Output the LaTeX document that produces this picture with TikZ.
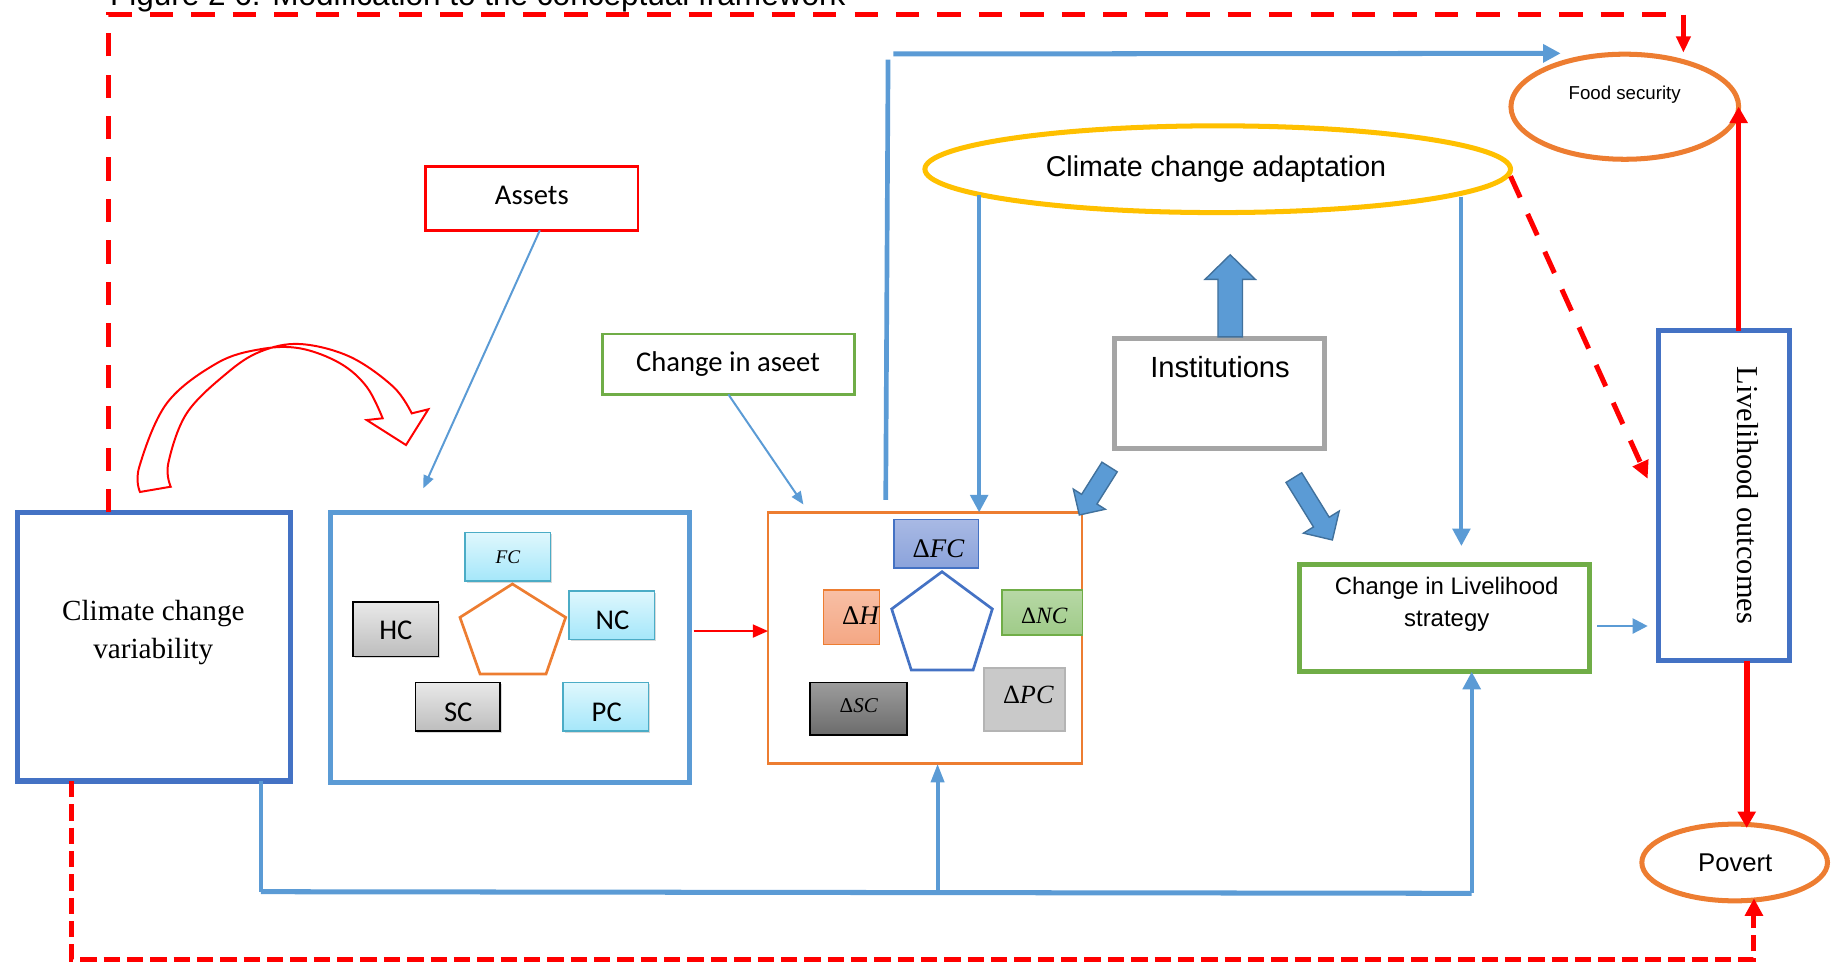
\documentclass[tikz,border=0pt]{standalone}
\usepackage{fontspec}
\newfontfamily\arialf{Liberation Sans}
\newfontfamily\romanf{Liberation Serif}
\newfontfamily\calibf{Carlito}
\usetikzlibrary{arrows.meta,calc,shadows,shapes.geometric}

\definecolor{dkblue}{HTML}{4472C4}
\definecolor{ltblue}{HTML}{5B9BD5}
\definecolor{arrowedge}{HTML}{41719C}
\definecolor{orng}{HTML}{ED7D31}
\definecolor{gold}{HTML}{FFC000}
\definecolor{grn}{HTML}{70AD47}
\definecolor{gry}{HTML}{A5A5A5}
\definecolor{cyantop}{HTML}{DFF7FD}
\definecolor{cyanbot}{HTML}{A5E7FA}
\definecolor{cyanedge}{HTML}{4BACC6}
\definecolor{greytop}{HTML}{E9E9E9}
\definecolor{greybot}{HTML}{BDBDBD}
\definecolor{dfctop}{HTML}{A8B9E4}
\definecolor{dfcbot}{HTML}{8BA3DB}
\definecolor{dhtop}{HTML}{F8BFA5}
\definecolor{dhbot}{HTML}{F4A784}
\definecolor{dnctop}{HTML}{B7D8A6}
\definecolor{dncbot}{HTML}{9FCB88}
\definecolor{dsctop}{HTML}{9C9C9C}
\definecolor{dscbot}{HTML}{6C6C6C}
\definecolor{dpcfill}{HTML}{C9C9C9}
\definecolor{dpcedge}{HTML}{B4B4B4}

% block arrow: start, tip, shaft half width, head half width, head length
\newcommand\blockarrow[5]{%
  \coordinate (bah) at ($(#2)!#5!(#1)$);
  \filldraw[blockarrow] ($(#1)!#3!90:(#2)$) -- ($(bah)!#3!90:(#2)$)
    -- ($(bah)!#4!90:(#2)$) -- (#2) -- ($(bah)!#4!-90:(#2)$)
    -- ($(bah)!#3!-90:(#2)$) -- ($(#1)!#3!-90:(#2)$) -- cycle;}

\begin{document}
\begin{tikzpicture}[x=1pt,y=-1pt,
  box/.style={draw, inner sep=0pt, outer sep=0pt},
  txt/.style={inner sep=0pt, anchor=base},
  capbox/.style={box, line width=1.3pt,
    drop shadow={shadow xshift=1.6pt,shadow yshift=-1.6pt,opacity=0.3}},
  cyanbox/.style={capbox, draw=cyanedge, top color=cyantop, bottom color=cyanbot},
  greybox/.style={capbox, draw=black, top color=greytop, bottom color=greybot},
  caplabel/.style={txt, font=\calibf\fontsize{24.5}{28}\selectfont},
  dbox/.style={box, line width=1.3pt},
  blueline/.style={draw=ltblue, line width=3.5pt},
  bluearrow/.style={blueline, -{Triangle[length=15pt,width=15pt]}},
  thinblue/.style={draw=ltblue, line width=1.7pt, -{Triangle[length=11pt,width=9pt]}},
  redsolid/.style={draw=red, line width=4.8pt, -{Triangle[length=14pt,width=15pt]}},
  reddash/.style={draw=red, line width=4.3pt, dash pattern=on 20pt off 15.5pt},
  reddot/.style={draw=red, line width=4.3pt, dash pattern=on 14pt off 6pt},
  blockarrow/.style={fill=ltblue, draw=arrowedge, line width=1.2pt, line join=miter},
]
\useasboundingbox (0,0) rectangle (1568,825);

% heading, cut by the top edge
\node[anchor=base west, inner sep=0pt, font=\arialf\fontsize{27}{30}\selectfont] (title)
  at (94,5) {Figure 2 6: Modification to the conceptual framework};

% ---------------- main boxes
\node[box, draw=dkblue, line width=4.3pt, minimum width=234pt, minimum height=230pt] (ccv) at (132,553.8) {};
\node[inner sep=0pt, align=center, font=\romanf\fontsize{25}{32.3}\selectfont] (ccvtext)
  at (131.3,541.8) {Climate change\\variability};

\node[box, draw=ltblue, line width=4.3pt, minimum width=307.7pt, minimum height=230.9pt] (ab) at (437,554.4) {};
\node[box, draw=orng, line width=2.3pt, minimum width=268.8pt, minimum height=215.2pt] (cb) at (792.15,546.35) {};

\node[box, draw=red, line width=2.3pt, minimum width=182.1pt, minimum height=54.8pt] (assets) at (455.3,169.85) {};
\node[caplabel] at (455.45,175) {Assets};
\node[box, draw=grn, line width=2.3pt, minimum width=215.8pt, minimum height=51.7pt] (cia) at (623.75,311.9) {};
\node[caplabel] at (623.45,318.3) {Change in aseet};

\node[ellipse, draw=gold, line width=4.3pt, inner sep=0pt, outer sep=0pt,
  minimum width=501.5pt, minimum height=74.3pt] (cca) at (1042.8,144.9) {};
\node[txt, font=\arialf\fontsize{24.5}{28}\selectfont] at (1041.3,151.3) {Climate change adaptation};

\node[ellipse, draw=orng, line width=4.3pt, inner sep=0pt, outer sep=0pt,
  minimum width=195pt, minimum height=90pt] (fs) at (1391.4,91.4) {};
\node[txt, font=\arialf\fontsize{16}{19}\selectfont] at (1391.3,85) {Food security};

\node[ellipse, draw=orng, line width=4.3pt, inner sep=0pt, outer sep=0pt,
  minimum width=159pt, minimum height=65.7pt] (pov) at (1485.5,738.6) {};
\node[txt, font=\arialf\fontsize{22}{26}\selectfont] at (1486,746.5) {Povert};

\node[box, draw=gry, line width=4.3pt, minimum width=179.9pt, minimum height=94pt] (inst) at (1044.1,336.85) {};
\node[txt, font=\arialf\fontsize{25}{29}\selectfont] at (1044.8,323.1) {Institutions};

\node[box, draw=grn, line width=4.3pt, minimum width=248.2pt, minimum height=91.9pt] (ls) at (1237.2,529.3) {};
\node[inner sep=0pt, align=center, font=\arialf\fontsize{20.5}{27.2}\selectfont] at (1238.9,517.8)
  {Change in Livelihood\\strategy};

\node[box, draw=dkblue, line width=4.3pt, minimum width=112.1pt, minimum height=282.8pt] (lo) at (1476.4,424.55) {};
\node[txt, rotate=-90, font=\romanf\fontsize{26}{30}\selectfont] at (1488.1,424.2) {Livelihood outcomes};

% ---------------- capitals
\draw[orng, line width=2.3pt, line join=miter] (438.8,500.1) -- (484.4,528.7) -- (467.6,577.2)
  -- (411.1,577.2) -- (393.9,528.7) -- cycle;
\node[cyanbox, minimum width=73pt, minimum height=41.5pt] (fc) at (434.75,476.7) {};
\node[txt, font=\romanf\itshape\fontsize{16.5}{19}\selectfont] at (435,482.4) {FC};
\node[greybox, minimum width=73pt, minimum height=46.7pt] (hc) at (338.85,538.8) {};
\node[caplabel] at (339,547.5) {HC};
\node[cyanbox, minimum width=73pt, minimum height=41.5pt] (nc) at (523.85,526.7) {};
\node[caplabel] at (524.5,538.7) {NC};
\node[greybox, minimum width=72.5pt, minimum height=41.5pt] (sc) at (391.95,605.2) {};
\node[caplabel] at (392.4,618) {SC};
\node[cyanbox, minimum width=73pt, minimum height=41.5pt] (pc) at (518.7,605.2) {};
\node[caplabel] at (519.6,618) {PC};

% ---------------- changed capitals
\draw[dkblue, line width=2.3pt, line join=miter] (806.7,489.6) -- (849.8,521.5) -- (833.3,573.8)
  -- (780.4,573.8) -- (763.6,521.5) -- cycle;
\node[dbox, draw=dkblue, top color=dfctop, bottom color=dfcbot, minimum width=72.2pt, minimum height=41.3pt] (dfc) at (801.85,465.6) {};
\node[txt, font=\romanf\fontsize{23}{27}\selectfont] at (803.6,477.3) {Δ\itshape FC};
\node[dbox, draw=orng, top color=dhtop, bottom color=dhbot, minimum width=47.9pt, minimum height=46.4pt] (dh) at (729.2,528.65) {};
\begin{scope}
  \clip (dh.south west) rectangle (dh.north east);
  \node[txt, anchor=base west, font=\romanf\fontsize{23}{27}\selectfont] at (721,535.2) {Δ\itshape HC};
\end{scope}
\node[dbox, draw=grn, top color=dnctop, bottom color=dncbot, minimum width=68.7pt, minimum height=38.2pt] (dnc) at (892.6,524.55) {};
\node[txt, font=\romanf\fontsize{20}{24}\selectfont] at (894.3,533.8) {Δ\itshape NC};
\node[dbox, draw=black, top color=dsctop, bottom color=dscbot, minimum width=83pt, minimum height=44.7pt] (dsc) at (735.35,606.9) {};
\node[txt, font=\romanf\fontsize{18}{22}\selectfont] at (735.4,610) {Δ\itshape SC};
\node[dbox, draw=dpcedge, fill=dpcfill, minimum width=69.3pt, minimum height=53.6pt] (dpc) at (877.5,599.05) {};
\node[txt, font=\romanf\fontsize{22.5}{26}\selectfont] at (880.6,602.3) {Δ\itshape PC};

% ---------------- curved arrow from climate variability to the assets
\draw[red, line width=1.7pt, line join=miter]
  plot[smooth, tension=0.6] coordinates {(119.9,421.3) (119.3,399.7) (142.8,345.4) (185.6,311.1)
    (222.7,299.1) (256.9,298.3) (291.2,311.1) (314.0,331.2) (327.7,358.2)}
  -- (314.0,359.7) -- (347.7,381.1) -- (366.8,350.5) -- (352.6,354.0)
  -- plot[smooth, tension=0.6] coordinates {(352.6,354.0) (336.8,331.2) (299.7,305.5) (256.9,294.6)
    (222.7,301.2) (194.1,319.7) (159.9,353.9) (144.1,396.8) (146.2,416.8)}
  -- cycle;

% ---------------- thin connectors
\coordinate (abin) at (362.5,418.2);
\draw[thinblue] ($(assets.south)+(7,0)$) -- (abin);
\coordinate (cbin) at (688,432);
\draw[thinblue] (cia.south) -- (cbin);
\coordinate (ra) at (594,540.4);
\draw[draw=red, line width=1.8pt, -{Triangle[length=13pt,width=11pt]}] (ra) -- (cb.west |- ra);
\coordinate (lsa) at (1368,536.1);
\coordinate (loa) at (1411,536.1);
\draw[thinblue, line width=2pt, -{Triangle[length=13pt,width=13pt]}] (lsa) -- (loa);

% ---------------- blue flows
\coordinate (ccaL) at (838.5,167);
\draw[bluearrow] (ccaL) -- (cb.north -| ccaL);
\coordinate (ccaRt) at (1251.5,168.4);
\coordinate (lsin) at (1251.5,467.6);
\draw[bluearrow] (ccaRt) -- (lsin);
\coordinate (tv0) at (758.5,428);
\coordinate (tv1) at (760.5,51);
\draw[blueline, line width=4pt] (tv0) -- (tv1);
\coordinate (th0) at (765,46.2);
\coordinate (fsin) at (1336.5,45.7);
\draw[bluearrow, line width=4.3pt] (th0) -- (fsin);

\coordinate (bl) at (223.3,763.6);
\coordinate (bm) at (802.9,764.3);
\coordinate (br) at (1260.3,765);
\draw[blueline] (ccv.south -| bl) -- (bl);
\draw[blueline, line width=4.3pt] (bl) -- (br);
\draw[bluearrow] (br) -- (ls.south -| br);
\draw[blueline, -{Triangle[length=16pt,width=11pt]}] (bm) -- (cb.south -| bm);

% ---------------- institutions block arrows
\coordinate (iu0) at (1053.5,288.5);
\coordinate (iu1) at (1053.5,218.2);
\blockarrow{iu0}{iu1}{10.5pt}{21.5pt}{21pt}
\coordinate (il0) at (950.2,399.9);
\coordinate (il1) at (924.3,441);
\blockarrow{il0}{il1}{7.75pt}{16.2pt}{16pt}
\coordinate (ir0) at (1108,409);
\coordinate (ir1) at (1141,462.4);
\blockarrow{ir0}{ir1}{7.9pt}{18pt}{18pt}

% ---------------- red outcome links
\draw[redsolid] (lo.north -| fs.east) -- (fs.east);
\coordinate (povtop) at (1495.8,709);
\draw[redsolid] (lo.south -| povtop) -- (povtop);

% ---------------- dashed feedback loops
\coordinate (dl) at (93.3,12.3);
\coordinate (dr) at (1441.6,12.3);
\coordinate (fstop) at (1441.6,45.1);
\draw[reddash, -{Triangle[length=14pt,width=12pt]}] (ccv.north -| dl) -- (dl) -- (dr) -- (fstop);
\coordinate (loin) at (1411,410);
\draw[reddash, -{Triangle[length=15pt,width=14pt]}] ($(cca.east)+(0,6)$) -- (loin);
\coordinate (bdl) at (61.4,821.5);
\coordinate (bdr) at (1502,821.5);
\coordinate (povbot) at (1502,769.3);
\draw[reddot, -{Triangle[length=15pt,width=15pt]}] (ccv.south -| bdl) -- (bdl) -- (bdr) -- (povbot);
\end{tikzpicture}
\end{document}
